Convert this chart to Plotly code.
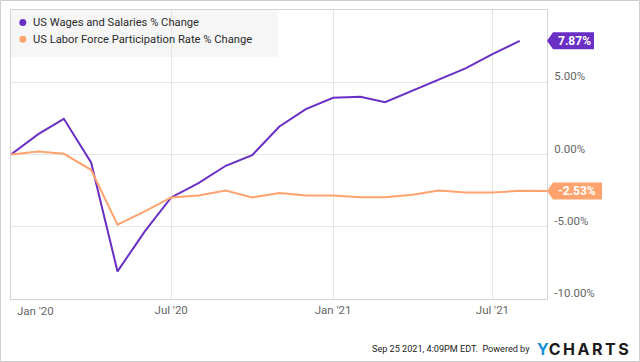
import plotly.graph_objects as go

# ---- data (monthly, % change since Jan 2020) ----
wage_dates = ["2020-01-01", "2020-02-01", "2020-03-01", "2020-04-01", "2020-05-01", "2020-06-01",
              "2020-07-01", "2020-08-01", "2020-09-01", "2020-10-01", "2020-11-01", "2020-12-01",
              "2021-01-01", "2021-02-01", "2021-03-01", "2021-04-01", "2021-05-01", "2021-06-01",
              "2021-07-01", "2021-08-01"]
wage_values = [0.0, 1.41, 2.47, -0.55, -8.09, -5.32, -2.97, -1.98, -0.78, -0.05, 1.94, 3.14,
               3.92, 3.99, 3.62, 4.41, 5.21, 5.98, 6.94, 7.87]

lfpr_dates = wage_dates + ["2021-09-01"]
lfpr_values = [0.0, 0.21, 0.05, -1.06, -4.86, -3.93, -2.97, -2.84, -2.49, -2.97, -2.67, -2.84,
               -2.84, -2.95, -2.95, -2.79, -2.49, -2.63, -2.63, -2.51, -2.53]

series_names = ["US Wages and Salaries % Change", "US Labor Force Participation Rate % Change"]
series_colors = ["#6a2fc4", "#ffa36e"]

x_tickvals = ["2020-07-01", "2021-01-01", "2021-07-01"]
x_ticktext = ["Jul '20", "Jan '21", "Jul '21"]
first_tick_text = "Jan '20"
y_tickvals = [-10, -5, 0, 5]
y_ticktext = ["-10.00%", "-5.00%", "0.00%", "5.00%"]

x_range = ["2020-01-01", "2021-09-01"]
y_range = [-10, 10]

FONT = "Roboto, Arial, sans-serif"

fig = go.Figure()
fig.add_trace(go.Scatter(x=wage_dates, y=wage_values, mode="lines",
                         line=dict(color=series_colors[0], width=2),
                         name=series_names[0], showlegend=False))
fig.add_trace(go.Scatter(x=lfpr_dates, y=lfpr_values, mode="lines",
                         line=dict(color=series_colors[1], width=2),
                         name=series_names[1], showlegend=False))

W, H = 640, 362
ml, mr, mt, mb = 11, 93, 10, 63
pw, ph = W - ml - mr, H - mt - mb

def px_x(p):
    return (p - ml) / pw

def px_y(p):
    return (H - mb - p) / ph

shapes = [
    # legend background, below the grid
    dict(type="rect", xref="paper", yref="paper", x0=0, x1=px_x(278), y0=px_y(57), y1=1,
         fillcolor="#f6f6f6", line=dict(width=0), layer="below"),
    # outer frame of the image
    dict(type="rect", xref="paper", yref="paper", x0=px_x(0.5), x1=px_x(639.5),
         y0=px_y(361.5), y1=px_y(0.5), line=dict(color="#cfcfcf", width=1),
         fillcolor="rgba(0,0,0,0)", layer="above"),
]
annotations = []

# legend (dot + label)
legend_y = [22.5, 39.3]
for nm, col, ly in zip(series_names, series_colors, legend_y):
    shapes.append(dict(type="circle", xref="paper", yref="paper",
                       x0=px_x(19.3), x1=px_x(26.3), y0=px_y(ly + 3.5), y1=px_y(ly - 3.5),
                       fillcolor=col, line=dict(width=0), layer="above"))
    annotations.append(dict(x=px_x(31), xref="paper", y=px_y(ly), yref="paper",
                            xanchor="left", yanchor="middle", showarrow=False, text=nm,
                            font=dict(family=FONT, size=11.2, color="#2b2b2b")))

# end-value flags
end_vals = [wage_values[-1], lfpr_values[-1]]
box_w = [47, 55]
for v, col, bw in zip(end_vals, series_colors, box_w):
    shapes.append(dict(type="path", xref="paper", yref="y", xanchor=1, yanchor=v,
                       xsizemode="pixel", ysizemode="pixel",
                       path=f"M0,0 L6,8.5 L{bw},8.5 L{bw},-8.5 L6,-8.5 Z",
                       fillcolor=col, line=dict(width=0), layer="above"))
    annotations.append(dict(x=1, xref="paper", y=v, yref="y", xanchor="left", yanchor="middle",
                            xshift=9, showarrow=False, text=f"{v:.2f}%",
                            font=dict(family=FONT, size=12, color="white", weight="bold")))

annotations.append(dict(x=px_x(35.7), xref="paper", y=px_y(311), yref="paper",
                        xanchor="center", yanchor="middle", showarrow=False,
                        text=first_tick_text, font=dict(family=FONT, size=11.5, color="#666666")))
annotations.append(dict(x=px_x(532), xref="paper", y=px_y(349), yref="paper",
                        xanchor="right", yanchor="middle", showarrow=False,
                        text="Sep 25 2021, 4:09PM EDT.  Powered by",
                        font=dict(family=FONT, size=9.1, color="#222222")))
annotations.append(dict(x=px_x(535), xref="paper", y=px_y(348.5), yref="paper",
                        xanchor="left", yanchor="middle", showarrow=False,
                        text='<span style="color:#1591d9">Y</span><span style="letter-spacing:2.5px">CHARTS</span>',
                        font=dict(family="Inter, Roboto, sans-serif", size=16, color="#1b1b1b", weight="bold")))

fig.update_layout(
    width=W, height=H,
    margin=dict(l=ml, r=mr, t=mt, b=mb),
    paper_bgcolor="white", plot_bgcolor="white",
    font=dict(family=FONT, size=12, color="#666666"),
    showlegend=False,
    shapes=shapes, annotations=annotations,
    xaxis=dict(type="date", range=x_range, tickvals=x_tickvals, ticktext=x_ticktext,
               showgrid=True, gridcolor="#e6e6e6", gridwidth=1, zeroline=False,
               showline=True, linecolor="#d4d4d4", linewidth=1, mirror=True,
               ticks="", tickfont=dict(family=FONT, size=11.5, color="#666666")),
    yaxis=dict(range=y_range, side="right", tickvals=y_tickvals, ticktext=y_ticktext,
               showgrid=True, gridcolor="#e6e6e6", gridwidth=1, zeroline=False,
               showline=True, linecolor="#d4d4d4", linewidth=1, mirror=True,
               ticks="", ticklabelstandoff=4, ticklabelshift=-6,
               tickfont=dict(family=FONT, size=11.5, color="#666666")),
)

fig.write_html("out.html", config={"displayModeBar": False},
               post_script="document.body.style.margin='0';document.body.style.overflow='hidden';")
